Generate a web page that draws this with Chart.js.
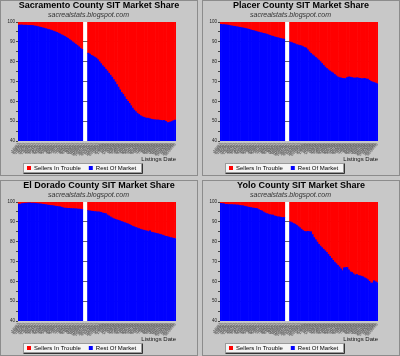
<!DOCTYPE html>
<html><head><meta charset="utf-8">
<script src="https://cdn.jsdelivr.net/npm/chart.js@4.4.1/dist/chart.umd.min.js"></script>
<style>
html,body{margin:0;padding:0;background:#c8c8c8;width:400px;height:356px;overflow:hidden;position:relative;}
.panel{position:absolute;width:198px;height:176px;box-sizing:border-box;border:1px solid #8c8c8c;background:#c8c8c8;}
.panel canvas{display:block;}
</style></head><body>
<div class="panel" style="left:0;top:0"><canvas id="c1" width="196" height="174"></canvas></div>
<div class="panel" style="left:202px;top:0"><canvas id="c2" width="196" height="174"></canvas></div>
<div class="panel" style="left:0;top:180px"><canvas id="c3" width="196" height="174"></canvas></div>
<div class="panel" style="left:202px;top:180px"><canvas id="c4" width="196" height="174"></canvas></div>
<script>
// Category (x) tick labels: weekly listings dates
const listingDates = [
'1/6/07','1/13/07','1/20/07','1/27/07','2/3/07','2/10/07','2/17/07','2/24/07','3/3/07','3/10/07',
'3/17/07','3/24/07','3/31/07','4/7/07','4/14/07','4/21/07','4/28/07','5/5/07','5/12/07','5/19/07',
'5/26/07','6/2/07','6/9/07','6/16/07','6/23/07','6/30/07','7/7/07','7/14/07','7/21/07','7/28/07',
'8/4/07','8/11/07','8/18/07','8/25/07','9/1/07','9/8/07','9/15/07','9/22/07','9/29/07','10/6/07',
'10/13/07','10/20/07','10/27/07','11/3/07','11/10/07','11/17/07','11/24/07','12/1/07','12/8/07','12/15/07',
'12/22/07','12/29/07','1/5/08','1/12/08','1/19/08','1/26/08','2/2/08','2/9/08','2/16/08','2/23/08',
'3/1/08','3/8/08','3/15/08','3/22/08','3/29/08','4/5/08','4/12/08','4/19/08','4/26/08','5/3/08',
'5/10/08','5/17/08','5/24/08','5/31/08','6/7/08','6/14/08','6/21/08','6/28/08','7/5/08','7/12/08',
'7/19/08','7/26/08','8/2/08','8/9/08','8/16/08','8/23/08','8/30/08','9/6/08','9/13/08','9/20/08',
'9/27/08','10/4/08','10/11/08','10/18/08','10/25/08','11/1/08','11/8/08','11/15/08','11/22/08','11/29/08'];

// "Rest Of Market" share (%) per week (null = missing weeks)
const sacramentoRest = [
98.5,98.5,98.5,98.4,98.4,98.4,98.3,98.3,98.3,98.2,
98.0,97.9,97.7,97.5,97.3,97.1,96.9,96.7,96.4,96.2,
96.0,95.7,95.4,95.1,94.8,94.4,94.0,93.6,93.2,92.8,
92.3,91.8,91.2,90.6,90.0,89.4,88.8,88.2,87.5,86.8,
86.2,null,null,null,84.3,83.8,83.2,82.8,82.3,81.8,
81.0,80.0,79.0,78.0,77.2,76.2,75.3,74.2,73.2,72.2,
71.0,69.8,68.5,67.2,65.8,64.5,63.6,62.3,61.0,60.0,
59.0,57.8,56.6,55.6,54.8,54.0,53.4,52.8,52.3,52.0,
51.7,51.5,51.5,51.2,51.0,50.8,50.7,50.6,50.6,50.5,
50.4,50.3,50.4,49.9,49.3,49.3,49.6,49.8,50.3,50.6];

const placerRest = [
98.8,98.7,98.7,98.6,98.5,98.4,98.2,98.0,97.9,97.8,
97.6,97.5,97.3,97.2,97.0,96.9,96.7,96.5,96.3,96.0,
95.8,95.6,95.4,95.1,94.9,94.7,94.5,94.3,94.1,93.9,
93.6,93.3,93.0,92.8,92.5,92.3,92.1,91.9,91.7,91.5,
91.4,null,null,null,89.9,89.6,89.3,89.0,88.6,88.4,
88.2,88.0,87.6,87.2,86.9,86.0,85.0,84.2,83.5,82.9,
82.2,81.5,80.8,80.0,79.1,78.2,77.3,76.6,75.9,75.3,
74.8,74.3,73.6,72.9,72.3,72.0,71.8,71.6,71.5,71.5,
72.0,72.3,72.2,72.0,71.8,71.7,71.9,71.8,71.6,71.5,
71.4,71.6,71.3,71.2,70.6,70.0,69.8,69.5,69.2,68.8];

const elDoradoRest = [
99.0,98.9,99.2,99.3,99.4,99.4,99.5,99.5,99.4,99.4,
99.4,99.3,99.2,99.1,99.0,98.9,98.8,98.7,98.5,98.4,
98.3,98.2,98.1,97.9,97.8,97.7,97.6,97.4,97.1,96.9,
96.9,96.8,96.8,96.7,96.7,96.6,96.6,96.5,96.4,96.4,
96.2,null,null,null,95.7,95.5,95.4,95.3,95.2,95.1,
95.0,95.0,94.8,94.5,94.3,94.2,93.5,93.0,92.5,92.0,
91.6,91.3,91.0,90.8,90.5,90.2,89.9,89.6,89.3,89.0,
88.7,88.2,87.8,87.5,87.2,86.9,86.6,86.3,86.0,85.8,
85.6,85.4,85.1,85.5,84.8,84.6,84.4,84.2,84.0,83.8,
83.6,83.3,83.0,82.7,82.6,82.3,82.1,81.9,81.7,81.6];

const yoloRest = [
99.3,99.2,99.1,98.8,98.8,98.7,98.7,98.7,98.6,98.6,
98.5,98.5,98.3,98.2,98.1,97.9,97.7,97.5,97.3,97.2,
97.0,96.9,96.8,96.7,96.2,95.8,95.5,95.0,94.5,94.2,
93.9,93.6,93.5,93.4,93.0,92.8,92.5,92.5,92.3,92.2,
92.2,null,null,null,90.0,89.6,89.2,88.8,88.3,87.6,
87.0,86.3,85.6,85.2,85.0,85.2,85.1,85.0,83.6,82.1,
81.0,79.8,78.7,77.8,77.0,76.2,75.4,74.6,73.6,72.6,
71.6,70.6,69.7,68.9,68.1,67.3,66.3,65.4,66.8,67.0,
67.0,65.8,64.8,64.5,63.8,63.1,63.5,63.0,62.8,62.6,
62.3,61.8,61.4,60.8,60.0,59.1,59.2,60.3,59.8,59.4];

Chart.defaults.font.family = '"Liberation Sans", Arial, sans-serif';

const deco = {
  id: 'deco',
  afterLayout(chart) {
    const W = chart.width;
    // centre title and subtitle across the whole panel
    [chart.titleBlock, chart.$subtitle].forEach(b => { if (b) { b.left = 0; b.right = W; b.width = W; } });
    const lg = chart.legend;
    const w = lg.right - lg.left;
    lg.left = 18; lg.right = 18 + w;
    lg.top = 156; lg.bottom = 180;
  },
  beforeDraw(chart) {
    const {ctx, chartArea: a} = chart;
    ctx.save();
    ctx.fillStyle = '#ffffff';
    ctx.fillRect(a.left, a.top, a.right - a.left, a.bottom - a.top);
    const lg = chart.legend;
    const lo = lg.options.labels;
    ctx.font = '6px "Liberation Sans", Arial, sans-serif';
    let w = 0;
    lg.legendItems.forEach((it, i) => { w += lo.boxWidth + 3 + ctx.measureText(it.text).width + (i ? lo.padding : 0); });
    const x0 = Math.round(lg.left + lo.padding - 4) + 0.5;
    const x1 = Math.round(lg.left + lo.padding + w + 5) + 0.5;
    const y0 = 162.5, y1 = 171.5;
    ctx.fillStyle = '#f4f4f4';
    ctx.fillRect(x0, y0, x1 - x0, y1 - y0);
    ctx.lineWidth = 1;
    ctx.strokeStyle = '#9a9a9a';
    ctx.strokeRect(x0, y0, x1 - x0, y1 - y0);
    ctx.strokeStyle = '#333';
    ctx.beginPath(); ctx.moveTo(x0, y1 + 1); ctx.lineTo(x1 + 1, y1 + 1); ctx.lineTo(x1 + 1, y0); ctx.stroke();
    ctx.restore();
  }
};

function makeChart(id, title, rest) {
  // Sellers In Trouble share is the complement of the Rest Of Market share
  const sit = rest.map(v => v === null ? null : Math.round((100 - v) * 10) / 10);
  return new Chart(document.getElementById(id), {
    type: 'bar',
    data: {
      labels: listingDates,
      datasets: [
        { label: 'Rest Of Market', data: rest, backgroundColor: '#0000ff' },
        { label: 'Sellers In Trouble', data: sit, backgroundColor: '#ff0000' }
      ]
    },
    options: {
      responsive: false, animation: false, devicePixelRatio: 1,
      events: [],
      datasets: { bar: { barPercentage: 1, categoryPercentage: 1, borderWidth: 0 } },
      layout: { padding: { left: 0, right: 21, top: 0, bottom: 0 } },
      plugins: {
        title: { display: true, text: title, color: '#000',
                 font: { size: 9, weight: 'bold', lineHeight: 1 }, padding: { top: 0.5, bottom: 0.5 } },
        subtitle: { display: true, text: 'sacrealstats.blogspot.com', color: '#333',
                 font: { size: 7, style: 'italic', lineHeight: 1 }, padding: { top: 0.5, bottom: 3.5 } },
        legend: { position: 'bottom', align: 'start', reverse: true, maxHeight: 12.5,
                  labels: { boxWidth: 4, boxHeight: 4, padding: 8, color: '#000', font: { size: 6 } } },
        tooltip: { enabled: false }
      },
      scales: {
        x: { stacked: true,
             grid: { display: false, drawTicks: false }, border: { display: false },
             ticks: { autoSkip: false, minRotation: 50, maxRotation: 50, padding: 1, color: '#555', font: { size: 4 } },
             title: { display: true, text: 'Listings Date', align: 'end', color: '#111',
                      font: { size: 6, lineHeight: 1 }, padding: 0 },
             afterFit: s => { s.height = 21.5; } },
        y: { stacked: true, min: 40, max: 100, z: 1,
             afterFit: s => { s.width = 17; },
             border: { display: false },
             grid: { color: c => (c.tick && c.tick.value % 10 === 0 && c.tick.value > 40 && c.tick.value < 100) ? 'rgba(0,0,0,0.6)' : 'rgba(0,0,0,0)',
                     tickColor: '#444', tickLength: 2, drawTicks: true },
             ticks: { stepSize: 5, padding: 1, color: '#222', font: { size: 4.5 },
                      callback: v => (v % 10 === 0 ? String(v) : '') } }
      }
    },
    plugins: [deco]
  });
}

makeChart('c1', 'Sacramento County SIT Market Share', sacramentoRest);
makeChart('c2', 'Placer County SIT Market Share', placerRest);
makeChart('c3', 'El Dorado County SIT Market Share', elDoradoRest);
makeChart('c4', 'Yolo County SIT Market Share', yoloRest);
</script>
</body></html>
